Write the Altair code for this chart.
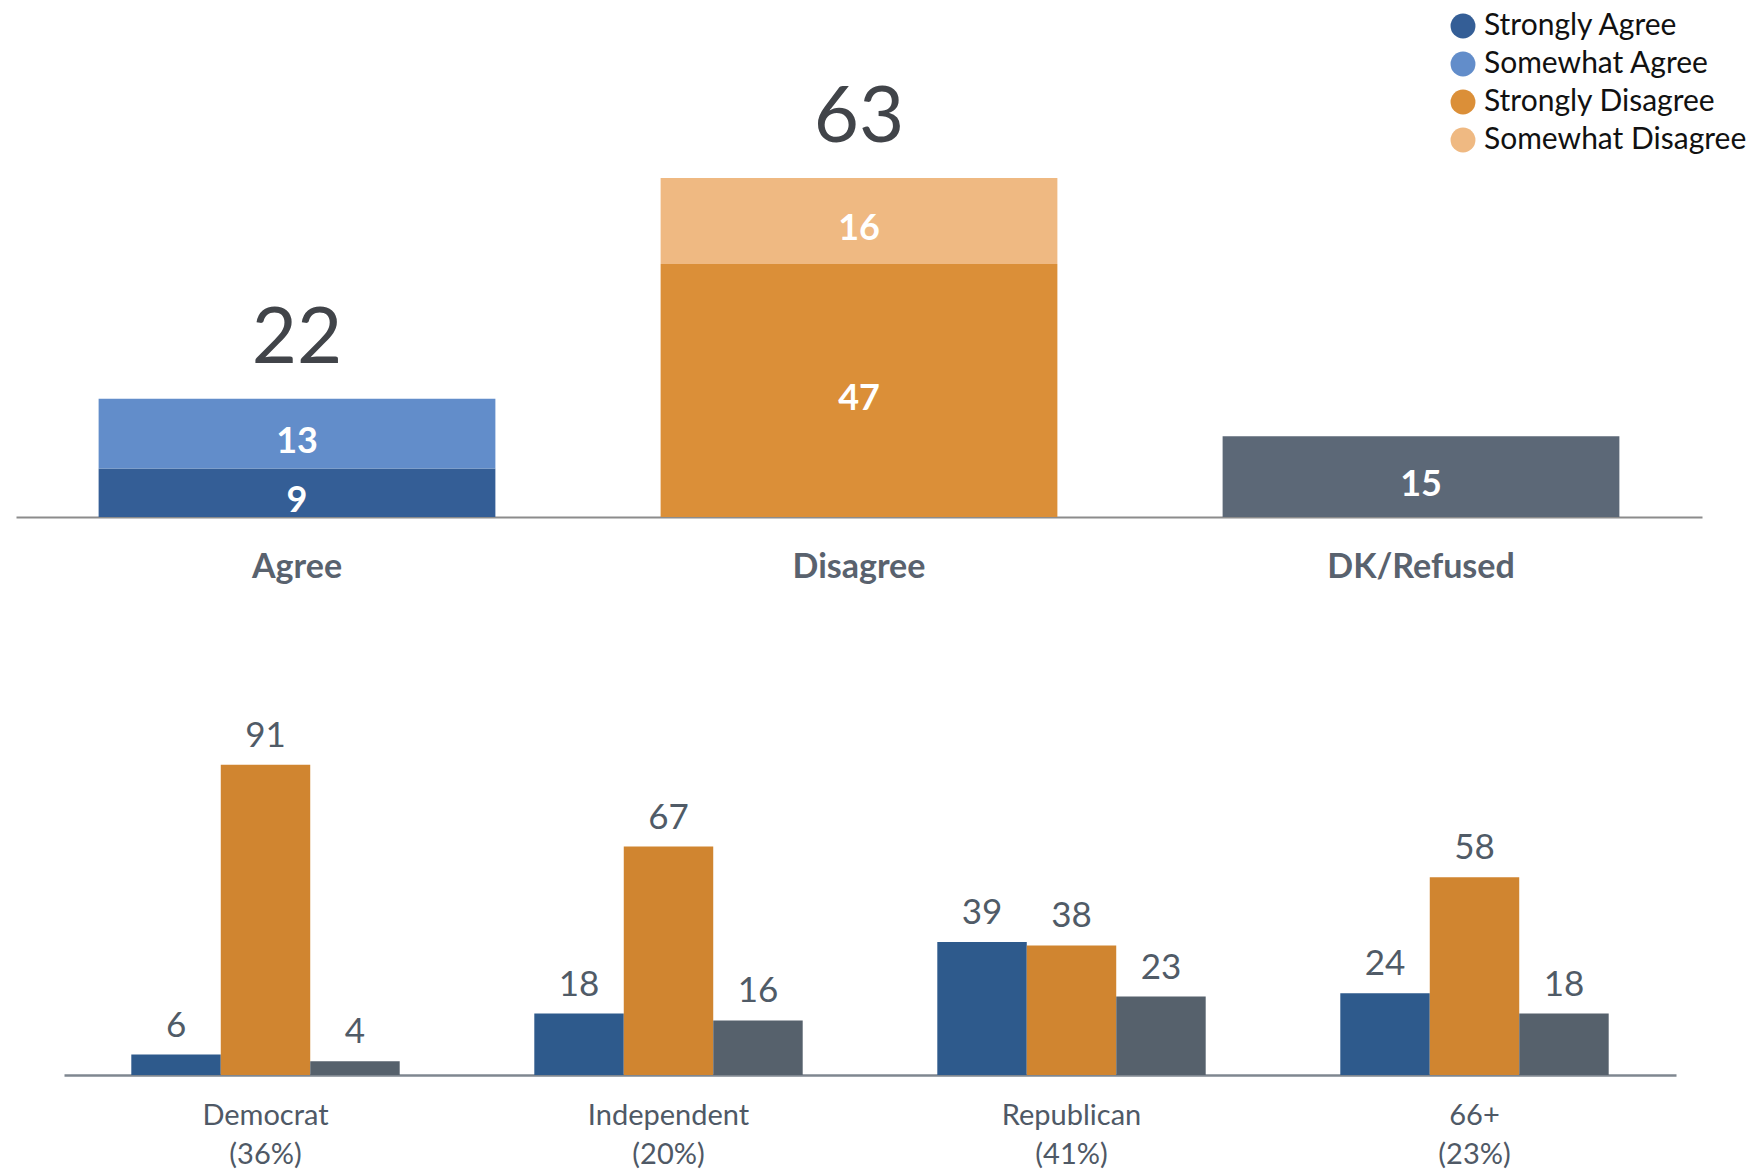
import altair as alt
import pandas as pd

FONT = "Lato"

# ---- top chart data ----
seg_category = ["Agree", "Agree", "Disagree", "Disagree", "DK/Refused"]
seg_response = ["Strongly Agree", "Somewhat Agree", "Strongly Disagree", "Somewhat Disagree", "DK/Refused"]
seg_value = [9, 13, 47, 16, 15]
top_categories = ["Agree", "Disagree", "DK/Refused"]
total_category = ["Agree", "Disagree"]
total_value = [22, 63]

response_domain = ["Strongly Agree", "Somewhat Agree", "Strongly Disagree", "Somewhat Disagree", "DK/Refused"]
response_colors = ["#345e96", "#628dca", "#db8f38", "#efb982", "#5c6877"]
legend_values = ["Strongly Agree", "Somewhat Agree", "Strongly Disagree", "Somewhat Disagree"]

# ---- bottom chart data ----
groups = ["Democrat", "Independent", "Republican", "66+"]
shares = ["(36%)", "(20%)", "(41%)", "(23%)"]
agree_vals = [6, 18, 39, 24]
disagree_vals = [91, 67, 38, 58]
dk_vals = [4, 16, 23, 18]
bottom_series = ["Agree", "Disagree", "DK/Refused"]
bottom_colors = ["#2e5a8c", "#d08530", "#56616c"]

# build top table with stacking bounds
rows = []
running = {}
for c, r, v in zip(seg_category, seg_response, seg_value):
    lo = running.get(c, 0)
    hi = lo + v
    running[c] = hi
    rows.append({"category": c, "response": r, "value": v, "lo": lo, "hi": hi, "mid": (lo + hi) / 2})
top_df = pd.DataFrame(rows)
tot_df = pd.DataFrame({"category": total_category, "total": total_value})

xs_top = alt.X("category:N", sort=top_categories,
               scale=alt.Scale(paddingInner=0.294, paddingOuter=0.147),
               axis=alt.Axis(title=None, labelAngle=0, ticks=False, domainColor="#8c8c8c",
                             domainWidth=2, labelFont=FONT, labelFontSize=34, labelLimit=0,
                             labelFontWeight="bold", labelColor="#59626e", labelPadding=33))
ys_top = alt.Scale(domain=[0, 94.6])

bars_top = alt.Chart(top_df).mark_bar().encode(
    x=xs_top,
    y=alt.Y("hi:Q", scale=ys_top, axis=None),
    y2="lo:Q",
    color=alt.Color("response:N",
                    scale=alt.Scale(domain=response_domain, range=response_colors),
                    legend=alt.Legend(values=legend_values, title=None, orient="none",
                                      legendX=1432, legendY=3, symbolType="circle",
                                      symbolSize=620, symbolStrokeWidth=0,
                                      labelFont=FONT, labelFontSize=30, labelColor="#111111",
                                      labelLimit=0, labelOffset=6, rowPadding=8, padding=0)),
)
seg_text = alt.Chart(top_df).mark_text(font=FONT, fontSize=36, fontWeight="bold",
                                       color="white", baseline="middle", dy=8).encode(
    x=alt.X("category:N", sort=top_categories),
    y=alt.Y("mid:Q", scale=ys_top),
    text="value:Q",
)
tot_text = alt.Chart(tot_df).mark_text(font=FONT, fontSize=78, color="#414449",
                                       baseline="alphabetic", dy=-36).encode(
    x=alt.X("category:N", sort=top_categories),
    y=alt.Y("total:Q", scale=ys_top),
    text="total:Q",
)
top = alt.layer(bars_top, seg_text, tot_text).properties(width=1686, height=509)

# ---- bottom chart ----
brows = []
for g, s, a, d, k in zip(groups, shares, agree_vals, disagree_vals, dk_vals):
    for ser, v in zip(bottom_series, [a, d, k]):
        brows.append({"group": g + "|" + s, "series": ser, "value": v})
bot_df = pd.DataFrame(brows)
group_order = [g + "|" + s for g, s in zip(groups, shares)]

ys_bot = alt.Scale(domain=[0, 121.4])
xs_bot = alt.X("group:N", sort=group_order,
               scale=alt.Scale(paddingInner=0.334, paddingOuter=0.167),
               axis=alt.Axis(title=None, labelAngle=0, ticks=False, domainColor="#7f8790",
                             domainWidth=2.5, labelFont=FONT, labelFontSize=29, labelLimit=0,
                             labelColor="#4f5966", labelPadding=26, labelLineHeight=39,
                             labelExpr="split(datum.label, '|')"))
bars_bot = alt.Chart(bot_df).mark_bar().encode(
    x=xs_bot,
    xOffset=alt.XOffset("series:N", sort=bottom_series, scale=alt.Scale(paddingInner=0, paddingOuter=0)),
    y=alt.Y("value:Q", scale=ys_bot, axis=None),
    color=alt.Color("series:N", scale=alt.Scale(domain=bottom_series, range=bottom_colors), legend=None),
)
val_text = alt.Chart(bot_df).mark_text(font=FONT, fontSize=35, color="#505b67",
                                       baseline="alphabetic", dy=-18).encode(
    x=alt.X("group:N", sort=group_order),
    xOffset=alt.XOffset("series:N", sort=bottom_series),
    y=alt.Y("value:Q", scale=ys_bot),
    text="value:Q",
)
bottom = alt.layer(bars_bot, val_text).properties(width=1612, height=414)

# empty spacer that indents the lower panel
spacer = alt.Chart(pd.DataFrame({"blank": [""]})).mark_text().encode(
    text="blank:N"
).properties(width=1, height=414)

lower = alt.hconcat(spacer, bottom, spacing=47)

chart = alt.vconcat(top, lower, spacing=77).resolve_scale(
    color="independent"
).properties(
    padding={"left": 8, "top": 0, "right": 0, "bottom": 0},
    background="white",
).configure_view(stroke=None)

chart.save("out.html", embed_options={"renderer": "svg", "actions": False})
